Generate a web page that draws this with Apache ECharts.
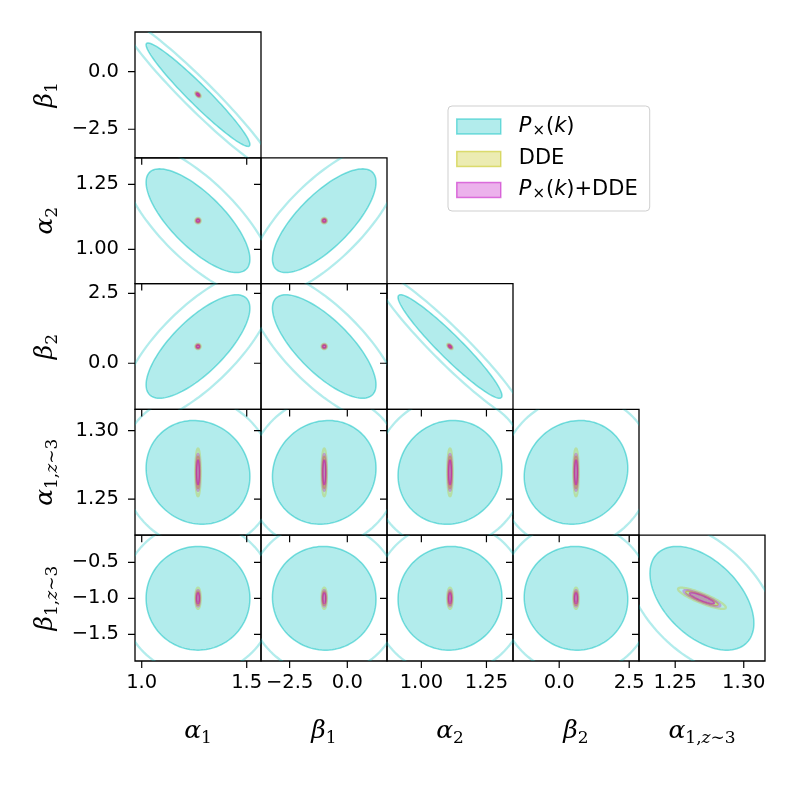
<!DOCTYPE html>
<html>
<head>
<meta charset="utf-8">
<title>corner plot</title>
<script src="https://cdn.jsdelivr.net/npm/echarts@6.0.0/dist/echarts.min.js"></script>
<style>
  html, body { margin: 0; padding: 0; background: #fff; }
  #chart { width: 796px; height: 796px; }
</style>
</head>
<body>
<div id="chart"></div>
<script>
// parameters in corner order: a1, b1, a2, b2, a1(z~3), b1(z~3)
const paramLabels = [
  '{g|α}{s|1}', '{g|β}{s|1}', '{g|α}{s|2}', '{g|β}{s|2}',
  '{g|α}{s|1,}{si|z}{s|∼3}', '{g|β}{s|1,}{si|z}{s|∼3}'
];
const axisRanges = [[0.968, 1.568], [-3.74, 1.72], [0.868, 1.352], [-1.65, 2.85], [1.2236, 1.3155], [-1.871, -0.124]];
const tickValues = [[1.0, 1.5], [-2.5, 0.0], [1.0, 1.25], [0.0, 2.5], [1.25, 1.30], [-1.5, -1.0, -0.5]];
const tickDecimals = [1, 1, 2, 1, 2, 1];

// gaussian summaries
const meanValues = [1.268, -1.0, 1.110, 0.60, 1.2695, -1.0];
const pxSigma = [0.163, 1.48, 0.1316, 1.22, 0.025, 0.475];
const ddeSigma = [0.0058, 0.052, 0.0047, 0.043, 0.0078, 0.066];
const combSigma = [0.0042, 0.039, 0.0034, 0.032, 0.0060, 0.051];

// correlations: [y param, x param, rho]
const pxCorr = [
  [1, 0, -0.963],
  [2, 0, -0.74], [2, 1, 0.74],
  [3, 0, 0.74], [3, 1, -0.74], [3, 2, -0.95],
  [4, 0, -0.08], [4, 1, 0.08], [4, 2, 0.06], [4, 3, 0.08],
  [5, 0, 0.0], [5, 1, -0.02], [5, 2, 0.02], [5, 3, -0.02], [5, 4, -0.48]
];
const ddeCorr = [[1, 0, -0.6], [3, 2, -0.6], [5, 4, -0.87]];
const combCorr = [[1, 0, -0.6], [3, 2, -0.6], [5, 4, -0.88]];

// delta chi2 of the inner (filled) and outer (line) contours
const contourLevels = [2.30, 5.0];

const datasetNames = ['P×(k)', 'DDE', 'P×(k)+DDE'];
const datasetRgb = ['0,191,191', '191,191,0', '191,0,191'];

const datasets = [
  { sigma: pxSigma, corr: pxCorr },
  { sigma: ddeSigma, corr: ddeCorr },
  { sigma: combSigma, corr: combCorr }
];

const font = 'DejaVu Sans';
const nameRich = {
  g: { fontFamily: 'DejaVu Serif', fontStyle: 'italic', fontSize: 25, color: '#000' },
  s: { fontFamily: 'DejaVu Serif', fontSize: 17, color: '#000', padding: [15, 0, 0, 0] },
  si: { fontFamily: 'DejaVu Serif', fontStyle: 'italic', fontSize: 17, color: '#000', padding: [15, 0, 0, 0] }
};

const rhoOf = (corr, i, j) => {
  for (let n = 0; n < corr.length; n++) {
    if (corr[n][0] === i && corr[n][1] === j) return corr[n][2];
  }
  return 0;
};

// contour of a 2d gaussian, in data units
const ellipse = (i, j, ds, chi2) => {
  const k = Math.sqrt(chi2);
  const sx = ds.sigma[j], sy = ds.sigma[i];
  const rho = rhoOf(ds.corr, i, j);
  const pts = [];
  for (let n = 0; n < 120; n++) {
    const t = (2 * Math.PI * n) / 120;
    pts.push([
      meanValues[j] + k * sx * Math.cos(t),
      meanValues[i] + k * sy * (rho * Math.cos(t) + Math.sqrt(1 - rho * rho) * Math.sin(t))
    ]);
  }
  return pts;
};

const fmt = (dec) => (v) => (v < 0 ? '\u2212' : '') + Math.abs(v).toFixed(dec);

const PW = 126, PH = 125.8, TICK = 7, PAD = 9;
const panels = [];
const grids = [], xAxes = [], yAxes = [], series = [];
let p = 0;
for (let r = 0; r < 5; r++) {
  for (let c = 0; c <= r; c++) {
    const yi = r + 1, xi = c;
    const left = 135 + PW * c, top = 32 + PH * r;
    panels.push({ xi: xi, yi: yi, left: left, top: top });
    grids.push({
      left: left, top: top, width: PW, height: PH,
      show: true, borderColor: '#000', borderWidth: 1.3, backgroundColor: 'transparent',
      containLabel: false
    });
    const isBottom = r === 4, isLeft = c === 0;
    xAxes.push({
      gridIndex: p, type: 'value', min: axisRanges[xi][0], max: axisRanges[xi][1],
      position: 'bottom',
      axisLine: { show: false, onZero: false }, splitLine: { show: false }, axisTick: { show: false },
      axisLabel: { show: isBottom, customValues: tickValues[xi], formatter: fmt(tickDecimals[xi]),
        margin: 12, color: '#000', fontSize: 19.5, fontFamily: font },
      name: isBottom ? paramLabels[xi] : '', nameLocation: 'middle', nameGap: 54,
      nameTextStyle: { rich: nameRich }
    });
    yAxes.push({
      gridIndex: p, type: 'value', min: axisRanges[yi][0], max: axisRanges[yi][1],
      position: 'left',
      axisLine: { show: false, onZero: false }, splitLine: { show: false }, axisTick: { show: false },
      axisLabel: { show: isLeft, customValues: tickValues[yi], formatter: fmt(tickDecimals[yi]),
        margin: 16, color: '#000', fontSize: 19.5, fontFamily: font },
      name: isLeft ? paramLabels[yi] : '', nameLocation: 'middle', nameGap: 74, nameRotate: 90,
      nameTextStyle: { rich: nameRich }
    });
    datasets.forEach((ds, d) => {
      const shapes = contourLevels.map((lv) => ellipse(yi, xi, ds, lv));
      const rgb = datasetRgb[d];
      series.push({
        type: 'custom', name: datasetNames[d], xAxisIndex: p, yAxisIndex: p,
        clip: true, silent: true,
        itemStyle: { color: 'rgba(' + rgb + ',0.3)' },
        data: [[meanValues[xi], meanValues[yi], 1], [meanValues[xi], meanValues[yi], 0]],
        renderItem: (params, api) => {
          const lvl = api.value(2);
          const pts = shapes[lvl].map((pt) => api.coord(pt));
          if (lvl === 0) {
            return { type: 'polygon', shape: { points: pts },
              style: { fill: 'rgba(' + rgb + ',0.3)', stroke: 'rgba(' + rgb + ',0.5)', lineWidth: 1.5 } };
          }
          return { type: 'polygon', shape: { points: pts },
            style: { fill: 'none', stroke: 'rgba(' + rgb + ',0.3)', lineWidth: 2.3 } };
        }
      });
    });
    p++;
  }
}

// hidden helper grids, each one a panel widened to the left and below,
// so the outward ticks are drawn through the same data scales
panels.forEach((pn) => {
  const g = grids.length;
  const xr = axisRanges[pn.xi], yr = axisRanges[pn.yi];
  const dx = PAD * (xr[1] - xr[0]) / PW, dy = PAD * (yr[1] - yr[0]) / PH;
  grids.push({ left: pn.left - PAD, top: pn.top, width: PW + PAD, height: PH + PAD, show: false, containLabel: false });
  const hidden = { show: false };
  xAxes.push({ gridIndex: g, type: 'value', min: xr[0] - dx, max: xr[1], position: 'bottom',
    axisLine: { show: false, onZero: false }, axisTick: hidden, axisLabel: hidden, splitLine: hidden });
  yAxes.push({ gridIndex: g, type: 'value', min: yr[0] - dy, max: yr[1], position: 'left',
    axisLine: { show: false, onZero: false }, axisTick: hidden, axisLabel: hidden, splitLine: hidden });
  const tickData = tickValues[pn.xi].map((v) => [v, yr[0], 0])
    .concat(tickValues[pn.yi].map((v) => [xr[0], v, 1]));
  series.push({
    type: 'custom', xAxisIndex: g, yAxisIndex: g, clip: true, silent: true, z: 5,
    data: tickData,
    renderItem: (params, api) => {
      const pt = api.coord([api.value(0), api.value(1)]);
      const vertical = api.value(2) === 0;
      return { type: 'line',
        shape: vertical ? { x1: pt[0], y1: pt[1], x2: pt[0], y2: pt[1] + TICK }
                        : { x1: pt[0], y1: pt[1], x2: pt[0] - TICK, y2: pt[1] },
        style: { stroke: '#000', lineWidth: 1.2 } };
    }
  });
});

const legendText = {
  'P×(k)': '{i|P}{x|×}{t|(}{i|k}{t|)}',
  'DDE': '{t|DDE}',
  'P×(k)+DDE': '{i|P}{x|×}{t|(}{i|k}{t|)+DDE}'
};

const chart = echarts.init(document.getElementById('chart'), null, { renderer: 'canvas' });
chart.setOption({
  animation: false,
  backgroundColor: '#fff',
  grid: grids,
  xAxis: xAxes,
  yAxis: yAxes,
  legend: {
    orient: 'vertical', left: 448, top: 106,
    padding: [10, 12, 9, 8], itemGap: 10, itemWidth: 44, itemHeight: 15, icon: 'rect',
    backgroundColor: '#fff', borderColor: '#cfcfcf', borderWidth: 1, borderRadius: 4,
    data: datasetNames.map((n, d) => ({
      name: n,
      itemStyle: { color: 'rgba(' + datasetRgb[d] + ',0.3)', borderColor: 'rgba(' + datasetRgb[d] + ',0.5)', borderWidth: 1.5 }
    })),
    formatter: (n) => legendText[n],
    textStyle: {
      padding: [0, 0, 0, 13],
      rich: {
        t: { fontFamily: font, fontSize: 21, color: '#000', lineHeight: 24 },
        i: { fontFamily: font, fontStyle: 'italic', fontSize: 21, color: '#000', lineHeight: 24 },
        x: { fontFamily: font, fontSize: 15, color: '#000', padding: [9, 1, 0, 1] }
      }
    }
  },
  series: series
});
</script>
</body>
</html>
